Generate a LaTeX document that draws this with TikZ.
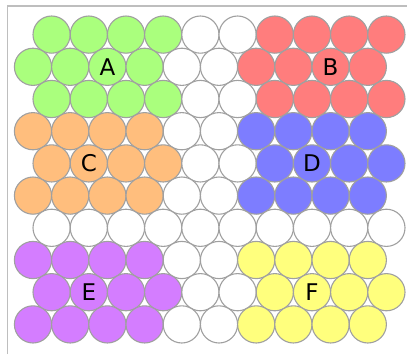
\documentclass[tikz,border=0pt]{standalone}
\usepackage{fontspec}
\setmainfont{DejaVu Sans}
\usepackage{tikz}
\definecolor{zoneA}{RGB}{170,255,125}
\definecolor{zoneB}{RGB}{255,125,125}
\definecolor{zoneC}{RGB}{255,190,125}
\definecolor{zoneD}{RGB}{125,125,255}
\definecolor{zoneE}{RGB}{212,125,255}
\definecolor{zoneF}{RGB}{255,255,125}
\definecolor{rimgray}{RGB}{160,160,160}
\definecolor{framegray}{RGB}{190,190,190}
\tikzset{
  ball/.style={draw=rimgray,line width=1.1pt},
  zonelabel/.style={inner sep=0pt,font=\fontsize{23}{27}\selectfont}
}

\begin{document}
\begin{tikzpicture}[x=1pt,y=-1pt]

    \useasboundingbox (0,0) rectangle (407,354);

    % frame

    \draw[framegray,line width=1.3pt] (7.5,354) -- (7.5,6) -- (407,6);

    % close packed balls, ten rows of ten

    \foreach \r/\lc/\rc in {0/zoneA/zoneB,1/zoneA/zoneB,2/zoneA/zoneB,
                            3/zoneC/zoneD,4/zoneC/zoneD,5/zoneC/zoneD,
                            6/white/white,
                            7/zoneE/zoneF,8/zoneE/zoneF,9/zoneE/zoneF}{

      \foreach \k in {0,...,9}{

        \pgfmathsetmacro\xx{33+18.6*mod(\r+1,2)+37.2*\k}
        \pgfmathsetmacro\yy{34.6+32.2*\r}
        \ifnum\k<4 \def\fc{\lc}\else\ifnum\k>5 \def\fc{\rc}\else\def\fc{white}\fi\fi
        \filldraw[ball,fill=\fc] (\xx,\yy) circle (18.6pt);

      }}

    % zone letters

    \node[zonelabel] (labA) at (107.4,66.8) {A};
    \node[zonelabel] (labB) at (330.6,66.8) {B};
    \node[zonelabel] (labC) at (88.8,163.4) {C};
    \node[zonelabel] (labD) at (312,163.4) {D};
    \node[zonelabel] (labE) at (88.8,292.2) {E};
    \node[zonelabel] (labF) at (312,292.2) {F};

  \end{tikzpicture}
\end{document}
